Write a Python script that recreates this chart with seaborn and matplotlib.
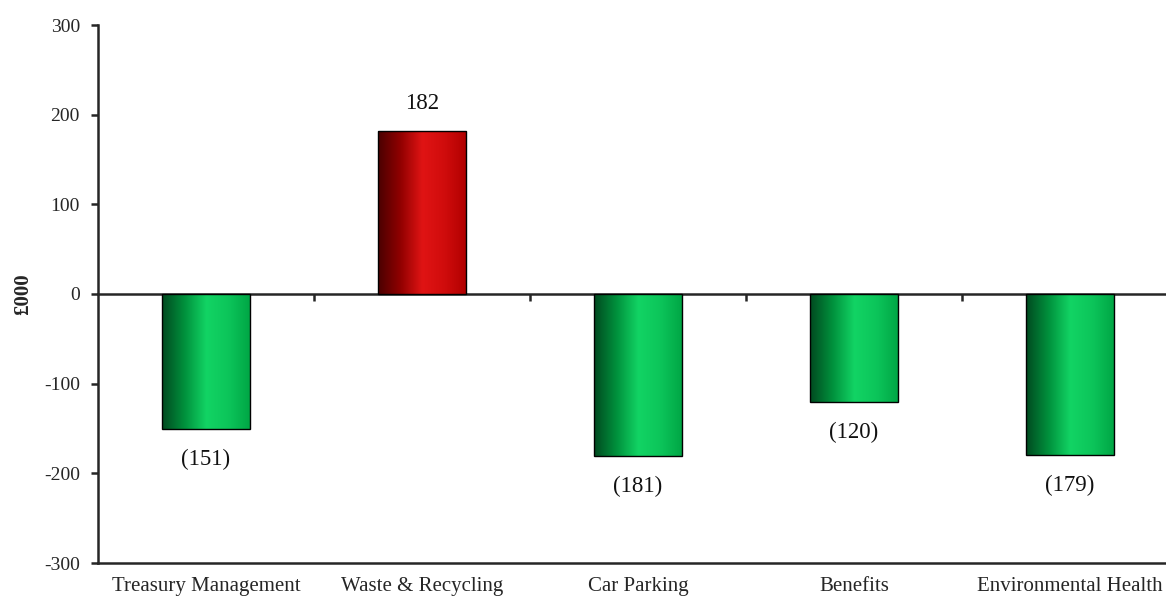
import numpy as np
import pandas as pd
import seaborn as sns
import matplotlib.pyplot as plt
from matplotlib.colors import LinearSegmentedColormap

# variance by service area, £000
categories = ["Treasury Management", "Waste & Recycling", "Car Parking", "Benefits", "Environmental Health"]
values = [-151, 182, -181, -120, -179]
labels = ["(151)", "182", "(181)", "(120)", "(179)"]

df = pd.DataFrame({"service": categories, "value": values})

sns.set_style("white")
plt.rcParams['font.family'] = ['Liberation Serif', 'DejaVu Serif']
plt.rcParams['axes.unicode_minus'] = False
plt.rcParams['text.color'] = '#111111'

fig = plt.figure(figsize=(11.66, 5.97), dpi=100)
ax = fig.add_axes([98 / 1166, 34 / 597, 1080 / 1166, 538 / 597])

sns.barplot(data=df, x="service", y="value", ax=ax, width=0.41,
            color="#10b050", edgecolor="black", linewidth=1.0)

green = LinearSegmentedColormap.from_list("g", ["#004a20", "#00903c", "#12d464", "#0cc55a", "#00a544"])
red = LinearSegmentedColormap.from_list("r", ["#4a0000", "#900000", "#e01414", "#d00c0c", "#b00000"])
grad = np.linspace(0, 1, 256).reshape(1, -1)
for patch, v in zip(ax.patches, values):
    x0, y0 = patch.get_x(), patch.get_y()
    w, h = patch.get_width(), patch.get_height()
    cmap = red if v > 0 else green
    im = ax.imshow(grad, cmap=cmap, aspect="auto", zorder=patch.get_zorder() + 0.1,
                   extent=[x0, x0 + w, y0, y0 + h], interpolation="bicubic")
    im.set_clip_path(patch)
    patch.set_facecolor("none")
    patch.set_zorder(patch.get_zorder() + 0.2)

for patch, v, lab in zip(ax.patches, values, labels):
    xc = patch.get_x() + patch.get_width() / 2
    off = 20 if v > 0 else -22
    ax.annotate(lab, (xc, v), xytext=(0, off), textcoords="offset points",
                ha="center", va="center", fontsize=16.5)

ax.set_xlim(-0.5, 4.5)
ax.set_ylim(-300, 300)
ax.set_yticks(range(-300, 301, 100))
ax.set_xlabel("")
ax.set_ylabel("£000", fontsize=15, fontweight="bold")
ax.yaxis.set_label_coords(-0.060, 0.5)

for s in ["top", "right"]:
    ax.spines[s].set_visible(False)
ax.spines["left"].set_linewidth(1.8)
ax.spines["bottom"].set_linewidth(1.8)
ax.tick_params(axis="y", direction="out", length=5, width=1.8, labelsize=14, left=True, pad=8)
ax.tick_params(axis="x", length=0, labelsize=15, pad=10)

# zero line with category-boundary ticks
zero = ax.secondary_xaxis(0.5)
zero.set_xticks([0.5, 1.5, 2.5, 3.5])
zero.set_xticklabels([])
zero.tick_params(direction="in", length=5, width=1.8)
for s in zero.spines.values():
    s.set_linewidth(1.8)

fig.savefig("out.png", dpi=100)
plt.close()
